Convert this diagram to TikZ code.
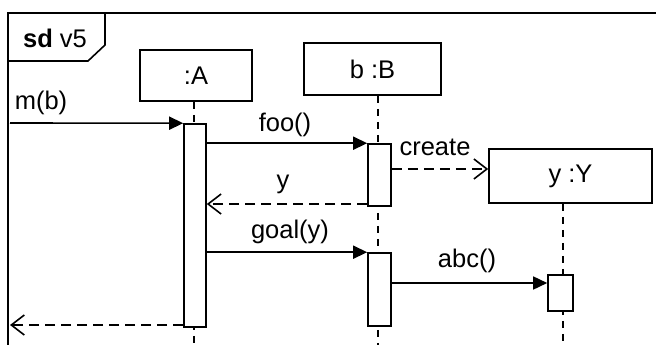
\documentclass[tikz,border=0pt]{standalone}
\usepackage{fontspec}
\setmainfont{Liberation Sans}
\usetikzlibrary{arrows.meta}
\begin{document}
\begin{tikzpicture}[x=1pt,y=-1pt,
  lw/.style={line width=1.6pt},
  objbox/.style={draw,lw,rectangle,inner sep=0pt,font=\fontsize{25.5}{27}\selectfont},
  actbox/.style={draw,lw,fill=white,rectangle,inner sep=0pt},
  lifeline/.style={lw,dash pattern=on 7pt off 6pt},
  msg/.style={lw,-{Triangle[length=14pt,width=13pt]}},
  ret/.style={lw,dash pattern=on 10pt off 6pt,-{Straight Barb[length=13pt,width=20pt,line width=1.6pt]}},
  lbl/.style={font=\fontsize{25.5}{27}\selectfont,inner sep=0pt}]
\useasboundingbox (0,0) rectangle (656,345);
\begin{scope}
\clip (0,0) rectangle (656,345);
% frame
\draw[lw] (8,360) -- (8,13) -- (680,13);
\draw[lw] (8,61) -- (88,61) -- (105,45) -- (105,13);
\node[lbl] (title) at (55,38) {\textbf{sd} v5};
% objects
\node[objbox,minimum width=112,minimum height=51] (A) at (196,75.5) {:A};
\node[objbox,minimum width=137,minimum height=52] (B) at (372.5,69) {b :B};
\node[objbox,minimum width=163,minimum height=54] (Y) at (570.5,176) {y :Y};
% lifelines
\coordinate (Aend) at (194,345);
\coordinate (Bend) at (378,345);
\coordinate (Yend) at (563,345);
\draw[lifeline] (A.south -| Aend) -- (Aend);
\draw[lifeline] (B.south -| Bend) -- (Bend);
\draw[lifeline] (Y.south -| Yend) -- (Yend);
% activations
\node[actbox,minimum width=22,minimum height=203] (aA) at (195,225.5) {};
\node[actbox,minimum width=23,minimum height=62] (aB1) at (379.5,175) {};
\node[actbox,minimum width=23,minimum height=73] (aB2) at (379.5,289.5) {};
\node[actbox,minimum width=25,minimum height=36] (aY) at (560.5,293) {};
% messages
\coordinate (start) at (10,123);
\draw[msg] (start) -- (aA.north west);
\node[lbl] at (41,103) {m(b)};
\draw[msg] (aA.east |- aB1.north) -- (aB1.north west);
\node[lbl] at (285,125) {foo()};
\coordinate (cy) at (0,169);
\draw[ret] (aB1.east |- cy) -- (Y.west |- cy);
\node[lbl] at (435,147) {create};
\coordinate (ry) at (0,204);
\draw[ret] (aB1.west |- ry) -- (aA.east |- ry);
\node[lbl] at (283,184) {y};
\draw[msg] (aA.east |- aB2.north) -- (aB2.north west);
\node[lbl] at (290,232) {goal(y)};
\coordinate (ay) at (0,283);
\draw[msg] (aB2.east |- ay) -- (aY.west |- ay);
\node[lbl] at (467,261) {abc()};
\coordinate (retend) at (10,325);
\coordinate (rA) at (0,325);
\draw[ret] (aA.west |- rA) -- (retend);
\end{scope}
\end{tikzpicture}
\end{document}
